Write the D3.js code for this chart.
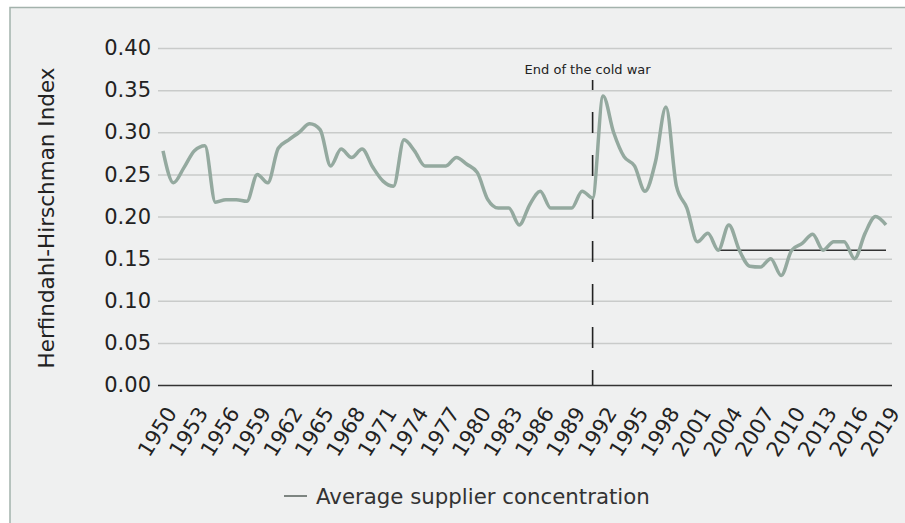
<!DOCTYPE html>
<html>
<head>
<meta charset="utf-8">
<script src="https://cdn.jsdelivr.net/npm/d3@7"></script>
<style>
  html, body { margin: 0; padding: 0; background: #ffffff; }
  svg { display: block; font-family: "DejaVu Sans", Verdana, sans-serif; }
</style>
</head>
<body>
<svg id="chart" width="905" height="523"></svg>
<script>
// ---- data ----
const years = d3.range(1950, 2020);
const concentration = [
  0.278, 0.240, 0.258, 0.278, 0.284, 0.217, 0.220, 0.220, 0.218, 0.250,
  0.240, 0.281, 0.291, 0.300, 0.310, 0.303, 0.260, 0.280, 0.270, 0.280,
  0.259, 0.242, 0.236, 0.291, 0.278, 0.260, 0.260, 0.260, 0.270, 0.262,
  0.252, 0.220, 0.210, 0.210, 0.190, 0.214, 0.230, 0.210, 0.210, 0.210,
  0.230, 0.222, 0.343, 0.300, 0.271, 0.260, 0.230, 0.265, 0.330, 0.236,
  0.210, 0.170, 0.180, 0.160, 0.190, 0.160, 0.141, 0.140, 0.150, 0.130,
  0.160, 0.168, 0.179, 0.160, 0.170, 0.170, 0.150, 0.180, 0.200, 0.190
];
const yTicks = [0, 0.05, 0.10, 0.15, 0.20, 0.25, 0.30, 0.35, 0.40];
const xTickYears = d3.range(1950, 2020, 3);
const eventYear = 1991;
const eventLabel = "End of the cold war";
const avgStart = 2003, avgEnd = 2019, avgValue = 0.16;
const yTitle = "Herfindahl-Hirschman Index";
const seriesName = "Average supplier concentration";

// ---- layout ----
const svg = d3.select("#chart");
const plotLeft = 158, plotRight = 892, plotTop = 48, plotBottom = 385;
const x = d3.scaleLinear().domain([1950, 2019]).range([163, 886]);
const y = d3.scaleLinear().domain([0, 0.4]).range([plotBottom, plotTop]);

// frame
svg.append("rect")
  .attr("x", 10).attr("y", 7.5).attr("width", 905).attr("height", 530)
  .attr("fill", "#eff0f0").attr("stroke", "#a3b2ac").attr("stroke-width", 1.5);

// y axis with gridlines
const yAxis = svg.append("g")
  .attr("transform", `translate(${plotLeft},0)`)
  .call(d3.axisLeft(y).tickValues(yTicks).tickFormat(d3.format(".2f"))
    .tickSize(-(plotRight - plotLeft)).tickPadding(7));
yAxis.select(".domain").remove();
yAxis.selectAll(".tick line")
  .attr("stroke", d => d === 0 ? "#333333" : "#c9cbca")
  .attr("stroke-width", d => d === 0 ? 1.6 : 1.5);
yAxis.selectAll(".tick text")
  .attr("font-size", 21).attr("fill", "#222").attr("font-family", "DejaVu Sans, sans-serif");

// x axis labels
const xAxis = svg.append("g")
  .attr("transform", `translate(0,${plotBottom})`)
  .call(d3.axisBottom(x).tickValues(xTickYears).tickFormat(d3.format("d")).tickSize(0));
xAxis.select(".domain").remove();
xAxis.selectAll(".tick text")
  .attr("y", 0).attr("dy", 0)
  .attr("text-anchor", "end")
  .attr("transform", "translate(14,28) rotate(-58)")
  .attr("font-size", 21).attr("fill", "#222").attr("font-family", "DejaVu Sans, sans-serif");

// y title
svg.append("text")
  .attr("transform", `translate(54,${(66 + 370) / 2}) rotate(-90)`)
  .attr("text-anchor", "middle")
  .attr("font-size", 21.5).attr("fill", "#222")
  .text(yTitle);

// average horizontal line
svg.append("line")
  .attr("x1", x(avgStart)).attr("x2", x(avgEnd))
  .attr("y1", y(avgValue)).attr("y2", y(avgValue))
  .attr("stroke", "#333").attr("stroke-width", 1.5);

// event dashed line
svg.append("line")
  .attr("x1", x(eventYear)).attr("x2", x(eventYear))
  .attr("y1", 80).attr("y2", plotBottom)
  .attr("stroke", "#222").attr("stroke-width", 1.6)
  .attr("stroke-dasharray", "21,22").attr("stroke-dashoffset", 11);
svg.append("text")
  .attr("x", x(eventYear) - 5).attr("y", 74)
  .attr("text-anchor", "middle")
  .attr("font-size", 13).attr("fill", "#222")
  .text(eventLabel);

// series line
const line = d3.line()
  .x((d, i) => x(years[i]))
  .y(d => y(d))
  .curve(d3.curveMonotoneX);
svg.append("path")
  .datum(concentration)
  .attr("d", line)
  .attr("fill", "none")
  .attr("stroke", "#94a99f")
  .attr("stroke-width", 3.5)
  .attr("stroke-linejoin", "round");

// legend
svg.append("line")
  .attr("x1", 284).attr("x2", 307).attr("y1", 496).attr("y2", 496)
  .attr("stroke", "#7d8581").attr("stroke-width", 2);
svg.append("text")
  .attr("x", 316).attr("y", 504)
  .attr("font-size", 21.3).attr("fill", "#333")
  .text(seriesName);
</script>
</body>
</html>
